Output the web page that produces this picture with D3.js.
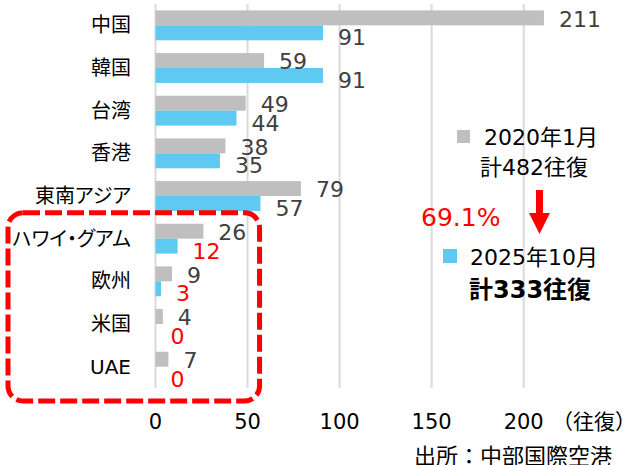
<!DOCTYPE html>
<html lang="ja">
  <head>
    <meta charset="utf-8">
    <title>中部国際空港 国際線 往復便数</title>
    <style>
    body {margin: 0; background: #fff;}
    svg text {font-family: "DejaVu Sans", "Noto Sans CJK JP", sans-serif;}
    .cat {font-feature-settings: "palt";}
    </style>
  </head>
  <body>
    <div id="chart"></div>
    <script src="https://cdnjs.cloudflare.com/ajax/libs/d3/7.8.5/d3.min.js"></script>
    <script>
      // data
      var categories = ["中国", "韓国", "台湾", "香港", "東南アジア", "ハワイ・グアム", "欧州", "米国", "UAE"];
      var flights2020 = [211, 59, 49, 38, 79, 26, 9, 4, 7];
      var flights2025 = [91, 91, 44, 35, 57, 12, 3, 0, 0];
      var highlight = ["ハワイ・グアム", "欧州", "米国", "UAE"];
      var xTicks = [0, 50, 100, 150, 200];
      var seriesNames = ["2020", "2025"];
      var legend2020 = ["2020年1月", "計482往復"];
      var legend2025 = ["2025年10月", "計333往復"];
      var changeLabel = "69.1%";
      var unitLabel = "（往復）";
      var sourceLabel = "出所：中部国際空港";

      var W = 630, H = 465;
      var colors = {"2020": "#bfbfbf", "2025": "#5fcaf1"};

      var svg = d3.select("#chart").append("svg")
        .attr("width", W).attr("height", H);

      var x = d3.scaleLinear().domain([0, 200]).range([155.5, 523.7]);
      var y = d3.scaleBand().domain(categories).range([4, 388])
        .paddingInner(0.3).paddingOuter(0.15);
      var sub = d3.scaleBand().domain(seriesNames).range([0, y.bandwidth()]);

      // gridlines
      svg.append("g").selectAll("line").data(xTicks).join("line")
        .attr("x1", d => x(d)).attr("x2", d => x(d))
        .attr("y1", 4).attr("y2", 388)
        .attr("stroke", "#d9d9d9").attr("stroke-width", 2);

      var rows = categories.map(function(c, i) {
        return {cat: c, vals: [
          {s: "2020", v: flights2020[i]},
          {s: "2025", v: flights2025[i]}
        ]};
      });

      var g = svg.append("g").selectAll("g").data(rows).join("g")
        .attr("transform", d => "translate(0," + y(d.cat) + ")");

      g.selectAll("rect").data(d => d.vals).join("rect")
        .attr("x", x(0))
        .attr("y", d => sub(d.s))
        .attr("width", d => x(d.v) - x(0))
        .attr("height", sub.bandwidth())
        .attr("fill", d => colors[d.s]);

      g.selectAll("text.val").data(d => d.vals.map(v => Object.assign({cat: d.cat}, v))).join("text")
        .attr("class", "val")
        .attr("x", d => x(d.v) + 15)
        .attr("y", d => sub(d.s) + sub.bandwidth() / 2 + (d.s === "2020" ? 1 : 5))
        .attr("dy", "0.35em")
        .attr("font-size", 22)
        .attr("fill", d => (d.s === "2025" && highlight.includes(d.cat)) ? "#ff0000" : "#404040")
        .text(d => d.v);

      // category labels
      svg.append("g").selectAll("text").data(categories).join("text")
        .attr("class", "cat")
        .attr("x", 131)
        .attr("y", d => y(d) + y.bandwidth() / 2)
        .attr("dy", "0.35em")
        .attr("text-anchor", "end")
        .attr("font-size", 20)
        .attr("fill", "#000")
        .text(d => d);

      // x tick labels
      svg.append("g").selectAll("text").data(xTicks).join("text")
        .attr("x", d => x(d))
        .attr("y", 422)
        .attr("dy", "0.35em")
        .attr("text-anchor", "middle")
        .attr("font-size", 21)
        .attr("fill", "#000")
        .text(d => d);

      svg.append("text")
        .attr("x", 552).attr("y", 422).attr("dy", "0.35em")
        .attr("font-size", 21).attr("fill", "#000")
        .text(unitLabel);

      svg.append("text")
        .attr("x", 612).attr("y", 456).attr("dy", "0.35em")
        .attr("text-anchor", "end")
        .attr("font-size", 22).attr("fill", "#000")
        .text(sourceLabel);

      // dashed box round the small routes
      var boxTop = y(highlight[0]) - 11;
      svg.append("rect")
        .attr("x", 8).attr("y", boxTop)
        .attr("width", x(50) + 12 - 8)
        .attr("height", 388 + 13 - boxTop)
        .attr("rx", 15).attr("ry", 15)
        .attr("fill", "none")
        .attr("stroke", "#ff0000").attr("stroke-width", 5)
        .attr("stroke-dasharray", "17,5");

      // legend 2020
      svg.append("rect").attr("x", 457).attr("y", 130).attr("width", 13).attr("height", 13)
        .attr("fill", colors["2020"]);
      svg.append("text").attr("x", 484).attr("y", 137).attr("dy", "0.35em")
        .attr("font-size", 22).attr("fill", "#000").text(legend2020[0]);
      svg.append("text").attr("x", 480).attr("y", 167).attr("dy", "0.35em")
        .attr("font-size", 22).attr("fill", "#000").text(legend2020[1]);

      // arrow and change
      svg.append("rect").attr("x", 536).attr("y", 190).attr("width", 7).attr("height", 24)
        .attr("fill", "#ff0000");
      svg.append("path").attr("d", "M529,213L550,213L539.5,234Z").attr("fill", "#ff0000");
      svg.append("text").attr("x", 421).attr("y", 217).attr("dy", "0.35em")
        .attr("font-size", 25).attr("fill", "#ff0000").text(changeLabel);

      // legend 2025
      svg.append("rect").attr("x", 443).attr("y", 249).attr("width", 14).attr("height", 14)
        .attr("fill", colors["2025"]);
      svg.append("text").attr("x", 470).attr("y", 257).attr("dy", "0.35em")
        .attr("font-size", 22).attr("fill", "#000").text(legend2025[0]);
      svg.append("text").attr("x", 469).attr("y", 290).attr("dy", "0.35em")
        .attr("font-size", 24).attr("font-weight", "bold").attr("fill", "#000").text(legend2025[1]);
    </script>
  </body>
</html>
